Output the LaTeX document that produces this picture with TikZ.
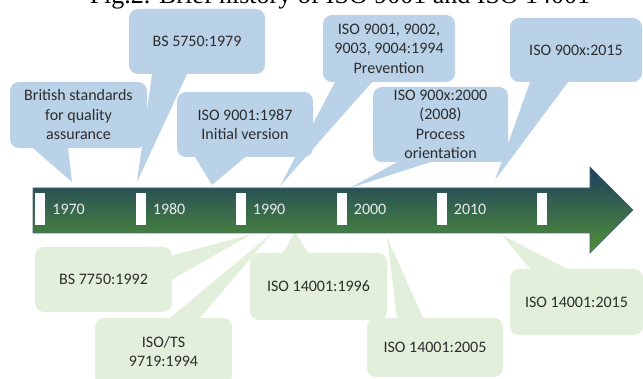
\documentclass[tikz,border=0pt]{standalone}
\usepackage{fontspec}
\setmainfont{Carlito}
\newfontfamily\titlefont{Liberation Serif}
\usetikzlibrary{positioning}

\definecolor{callblue}{RGB}{185,210,232}
\definecolor{callgreen}{RGB}{226,239,218}
\definecolor{calltext}{RGB}{45,45,45}
\definecolor{arrowtop}{RGB}{30,62,95}
\definecolor{arrowbot}{RGB}{80,145,55}
\definecolor{arrowedge}{RGB}{70,100,115}
\definecolor{yeartext}{RGB}{235,235,235}

\tikzset{
    callbox/.style={rounded corners=9pt, inner sep=0pt, align=center, text=calltext,
        font=\fontsize{16}{19.5}\selectfont},
    bluebox/.style={callbox, fill=callblue},
    greenbox/.style={callbox, fill=callgreen},
    yearmark/.style={fill=white, minimum width=10pt, minimum height=32pt, inner sep=0pt},
    yearlabel/.style={text=yeartext, inner sep=0pt, font=\fontsize{16}{18}\selectfont}
}

\begin{document}
\begin{tikzpicture}[x=1pt, y=-1pt]
    \useasboundingbox (0,0) rectangle (643,379);
    \clip (0,0) rectangle (643,379);

    % caption, cut off at the top edge
    \node[anchor=base, inner sep=0pt, font=\titlefont\fontsize{26}{30}\selectfont] (title) at (340,4)
        {Fig.2. Brief history of ISO 9001 and ISO 14001};

    % quality callouts (above)
    \node[bluebox, minimum width=137pt, minimum height=66pt] (b1) at (78.5,115) {British standards\\for quality\\assurance};
    \node[bluebox, minimum width=136pt, minimum height=65pt] (b2) at (197,41.5) {BS 5750:1979};
    \node[bluebox, minimum width=136pt, minimum height=65pt] (b3) at (245,124.5) {ISO 9001:1987\\Initial version};
    \node[bluebox, minimum width=132pt, minimum height=67pt] (b4) at (389,48.5) {ISO 9001, 9002,\\9003, 9004:1994\\Prevention};
    \node[bluebox, minimum width=135pt, minimum height=75pt] (b5) at (440.5,124.5) {ISO 900x:2000\\(2008)\\Process\\orientation};
    \node[bluebox, minimum width=132pt, minimum height=64pt] (b6) at (576,50) {ISO 900x:2015};

    \coordinate (p1) at (72,182);
    \coordinate (p2) at (137,182);
    \coordinate (p3) at (212,185);
    \coordinate (p4) at (280,186);
    \coordinate (p5) at (350,188);
    \coordinate (p6) at (495,180);

    \fill[callblue] ([xshift=-45.5pt]b1.south) -- (p1) -- ([xshift=-10.5pt]b1.south) -- cycle;
    \fill[callblue] ([xshift=-45pt]b2.south) -- (p2) -- ([xshift=-10pt]b2.south) -- cycle;
    \fill[callblue] ([xshift=-50pt]b3.south) -- (p3) -- ([xshift=0pt]b3.south) -- cycle;
    \fill[callblue] ([xshift=-54pt]b4.south) -- (p4) -- ([xshift=-17pt]b4.south) -- cycle;
    \fill[callblue] ([xshift=-43.5pt]b5.south) -- (p5) -- ([xshift=-10.5pt]b5.south) -- cycle;
    \fill[callblue] ([xshift=-46pt]b6.south) -- (p6) -- ([xshift=-8pt]b6.south) -- cycle;

    % environmental callouts (below)
    \node[greenbox, minimum width=137pt, minimum height=65pt] (g1) at (103.5,279.5) {BS 7750:1992};
    \node[greenbox, minimum width=137pt, minimum height=67pt] (g2) at (163.5,351.5) {ISO/TS\\9719:1994};
    \node[greenbox, minimum width=137pt, minimum height=67pt] (g3) at (318.5,286.5) {ISO 14001:1996};
    \node[greenbox, minimum width=136pt, minimum height=59pt] (g4) at (435,347.5) {ISO 14001:2005};
    \node[greenbox, minimum width=133pt, minimum height=66pt] (g5) at (576.5,302) {ISO 14001:2015};

    \coordinate (q1) at (252,234);
    \coordinate (q2) at (272,233);
    \coordinate (q3) at (295,232);
    \coordinate (q4) at (387,237);
    \coordinate (q5) at (502,235);

    \fill[callgreen] ([yshift=24pt]g1.east) -- (q1) -- ([yshift=0pt]g1.east) -- cycle;
    \fill[callgreen] ([xshift=6.5pt]g2.north) -- (q2) -- ([xshift=36.5pt]g2.north) -- cycle;
    \fill[callgreen] ([xshift=-35.5pt]g3.north) -- (q3) -- ([xshift=-10.5pt]g3.north) -- cycle;
    \fill[callgreen] ([xshift=-38pt]g4.north) -- (q4) -- ([xshift=-12pt]g4.north) -- cycle;
    \fill[callgreen] ([xshift=-46.5pt]g5.north) -- (q5) -- ([xshift=-9.5pt]g5.north) -- cycle;

    % time line
    \path[top color=arrowtop, bottom color=arrowbot, draw=arrowedge, line width=0.6pt]
        (33,188) -- (590,188) -- (590,167) -- (633,210) -- (590,253) -- (590,233) -- (33,233) -- cycle;

    \foreach \i/\x/\yr in {1/40/1970, 2/140.5/1980, 3/240.5/1990, 4/341.5/2000, 5/441.5/2010} {
        \node[yearmark] (m\i) at (\x,209) {};
        \node[yearlabel, right=7pt of m\i] (y\i) {\yr};
    }
    \node[yearmark] (m6) at (542,209) {};
\end{tikzpicture}
\end{document}
